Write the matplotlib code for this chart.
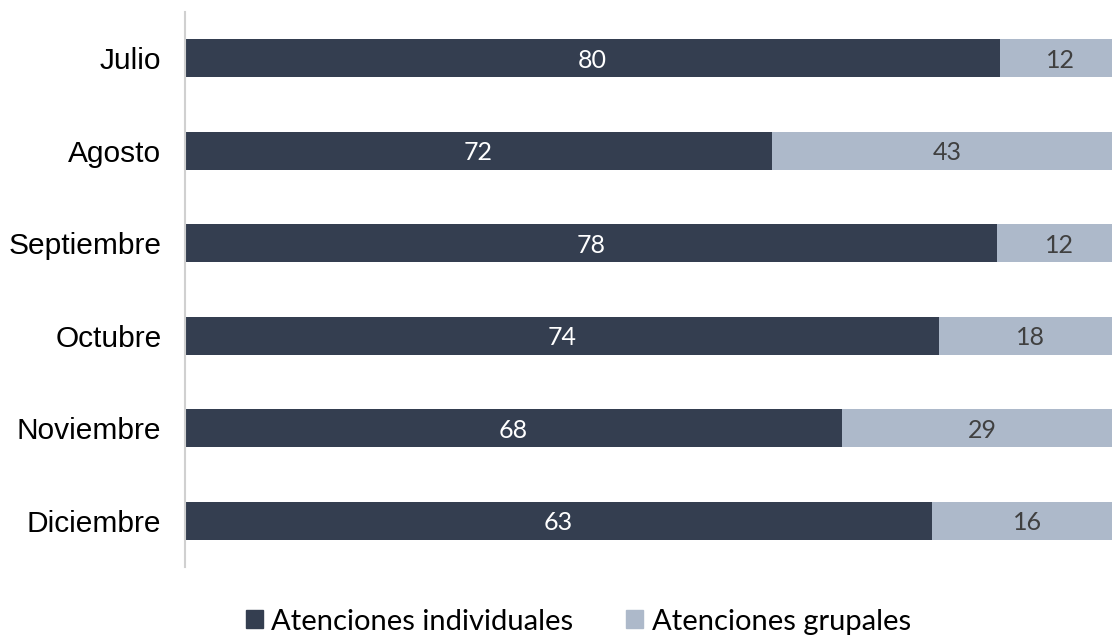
import numpy as np
import matplotlib.pyplot as plt
from matplotlib.patches import Patch

meses = ['Julio', 'Agosto', 'Septiembre', 'Octubre', 'Noviembre', 'Diciembre']
individuales = np.array([80, 72, 78, 74, 68, 63])
grupales = np.array([12, 43, 12, 18, 29, 16])

c_ind = '#343e50'
c_grp = '#adb9ca'

total = individuales + grupales
p_ind = individuales / total
p_grp = grupales / total

fig = plt.figure(figsize=(11.12, 6.37), dpi=100)
ax = fig.add_axes([185 / 1112, 1 - 567 / 637, 937 / 1112, 555 / 637])

y = np.arange(len(meses))
ax.barh(y, p_ind, height=0.41, color=c_ind)
ax.barh(y, p_grp, left=p_ind, height=0.41, color=c_grp)

lab_font = ['Lato', 'DejaVu Sans']
for i in range(len(meses)):
    ax.text(p_ind[i] / 2, y[i] + 0.02, str(individuales[i]), color='white',
            ha='center', va='center', fontsize=18, family=lab_font)
    ax.text(p_ind[i] + p_grp[i] / 2, y[i] + 0.02, str(grupales[i]), color='#404040',
            ha='center', va='center', fontsize=18, family=lab_font)

ax.set_xlim(0, 1)
ax.set_ylim(len(meses) - 0.5, -0.5)
ax.set_yticks(y)
ax.set_yticklabels(meses, family='Liberation Sans', fontsize=21.5)
ax.tick_params(axis='y', length=0, pad=17)
ax.set_xticks([])
for s in ['top', 'right', 'bottom']:
    ax.spines[s].set_visible(False)
ax.spines['left'].set_color('#d0d0d0')
ax.spines['left'].set_linewidth(1.5)

handles = [Patch(color=c_ind, label='Atenciones individuales'),
           Patch(color=c_grp, label='Atenciones grupales')]
fig.legend(handles=handles, loc='center', bbox_to_anchor=(0.52, 0.024), ncol=2,
           frameon=False, prop={'family': 'Lato', 'size': 21},
           handlelength=0.58, handleheight=0.58, handletextpad=0.3, columnspacing=1.8)

fig.savefig('out.png', dpi=100)
